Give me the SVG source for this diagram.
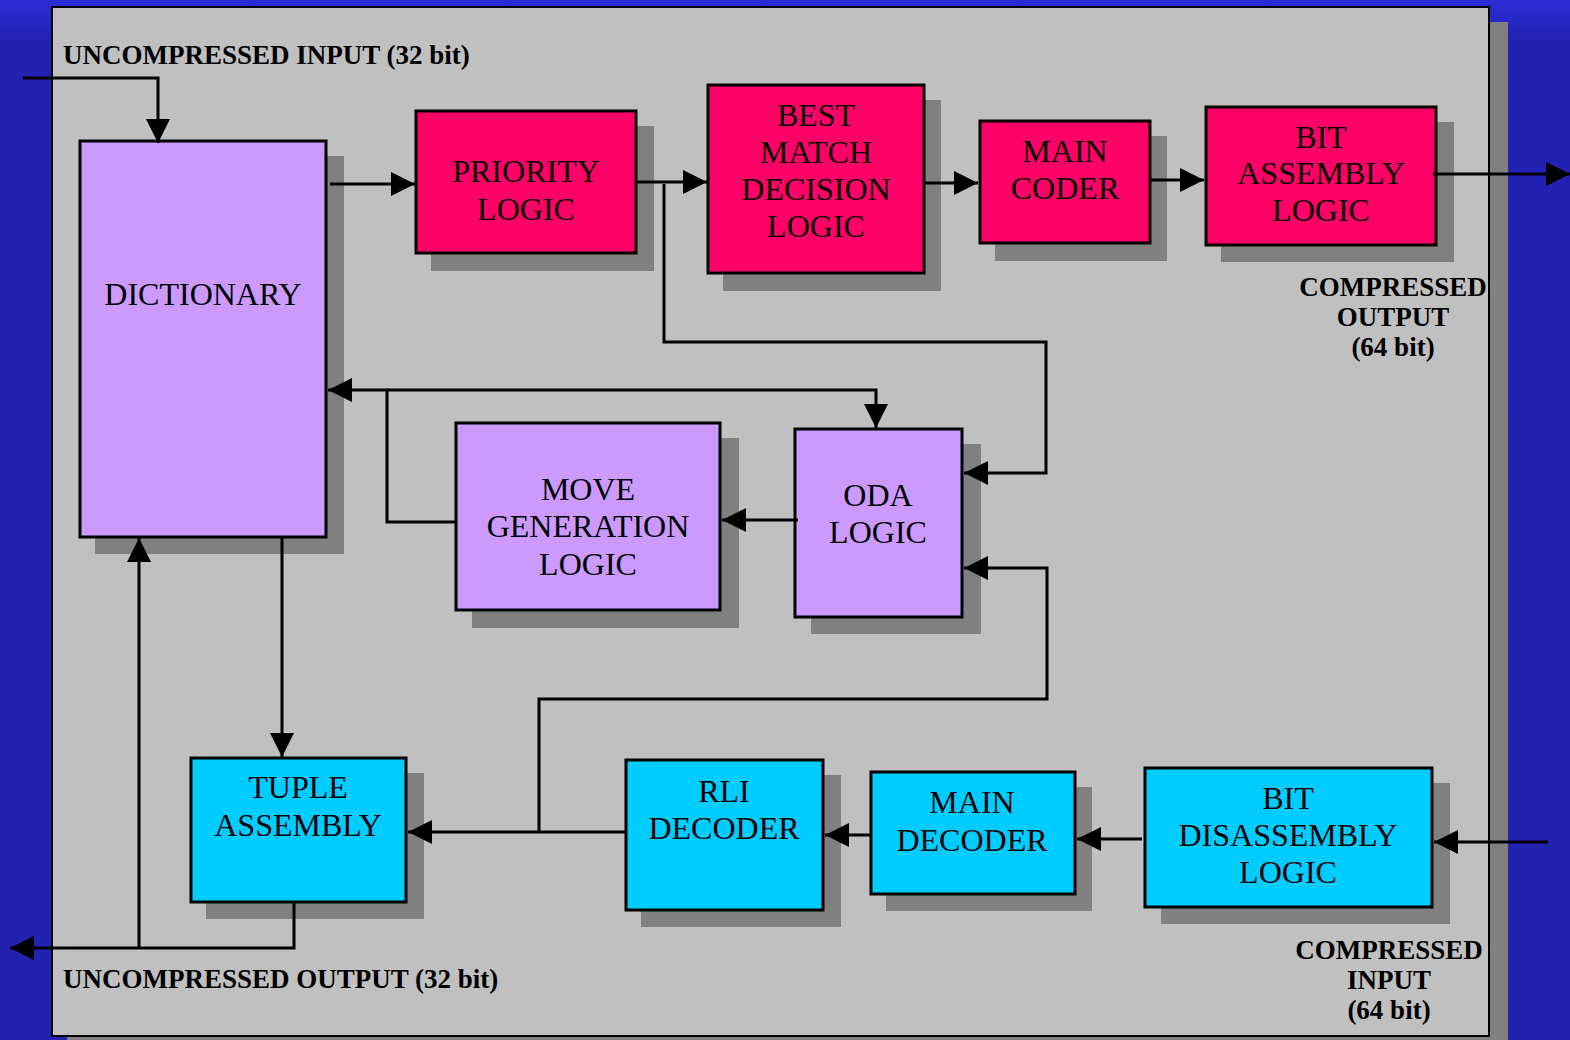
<svg xmlns="http://www.w3.org/2000/svg" width="1570" height="1040" viewBox="0 0 1570 1040">
<defs>
<linearGradient id="bg" x1="0" y1="0" x2="0" y2="1">
<stop offset="0" stop-color="#2c2cd6"/>
<stop offset="0.04" stop-color="#2222b2"/>
<stop offset="1" stop-color="#2222b0"/>
</linearGradient>
<marker id="ah" markerUnits="userSpaceOnUse" markerWidth="24" markerHeight="24" refX="24" refY="12" orient="auto" viewBox="0 0 24 24">
<path d="M0,0 L24,12 L0,24 z" fill="#000"/>
</marker>
<style>
.sh{fill:#808080}
.box{stroke:#000;stroke-width:3}
.pink{fill:#ff0066}
.lav{fill:#cc99ff}
.cyan{fill:#00ccff}
.t{font-family:"Liberation Serif","Times New Roman",serif;font-size:32px;fill:#000;text-anchor:middle}
.lb{font-family:"Liberation Serif","Times New Roman",serif;font-size:27px;font-weight:bold;fill:#000}
.lbc{text-anchor:middle}
.c{fill:none;stroke:#000;stroke-width:3}
.ca{fill:none;stroke:#000;stroke-width:3;marker-end:url(#ah)}
</style>
</defs>
<rect x="0" y="0" width="1570" height="1040" fill="url(#bg)"/>
<rect x="67" y="22" width="1441" height="1040" fill="#808080"/>
<rect x="52" y="7" width="1437" height="1029" fill="#c0c0c0" stroke="#000" stroke-width="2"/>

<g id="labels">
<text class="lb" x="63" y="64">UNCOMPRESSED INPUT (32 bit)</text>
<text class="lb lbc" x="1393" y="296">COMPRESSED</text>
<text class="lb lbc" x="1393" y="326">OUTPUT</text>
<text class="lb lbc" x="1393" y="356">(64 bit)</text>
<text class="lb lbc" x="1389" y="959">COMPRESSED</text>
<text class="lb lbc" x="1389" y="989">INPUT</text>
<text class="lb lbc" x="1389" y="1019">(64 bit)</text>
<text class="lb" x="63" y="988">UNCOMPRESSED OUTPUT (32 bit)</text>
</g>

<g id="dictionary">
<rect class="sh" x="95" y="156" width="249" height="398"/>
<rect class="box lav" x="80" y="141" width="246" height="396"/>
<text class="t" x="203" y="305">DICTIONARY</text>
</g>
<g id="priority">
<rect class="sh" x="431" y="126" width="223" height="145"/>
<rect class="box pink" x="416" y="111" width="220" height="142"/>
<text class="t" x="526" y="182">PRIORITY</text>
<text class="t" x="526" y="220">LOGIC</text>
</g>
<g id="bestmatch">
<rect class="sh" x="723" y="100" width="218" height="191"/>
<rect class="box pink" x="708" y="85" width="216" height="188"/>
<text class="t" x="816" y="126">BEST</text>
<text class="t" x="816" y="163">MATCH</text>
<text class="t" x="816" y="200">DECISION</text>
<text class="t" x="816" y="237">LOGIC</text>
</g>
<g id="maincoder">
<rect class="sh" x="995" y="136" width="172" height="125"/>
<rect class="box pink" x="980" y="121" width="170" height="122"/>
<text class="t" x="1065" y="162">MAIN</text>
<text class="t" x="1065" y="199">CODER</text>
</g>
<g id="bitassembly">
<rect class="sh" x="1221" y="122" width="233" height="140"/>
<rect class="box pink" x="1206" y="107" width="230" height="138"/>
<text class="t" x="1321" y="148">BIT</text>
<text class="t" x="1321" y="184">ASSEMBLY</text>
<text class="t" x="1321" y="221">LOGIC</text>
</g>
<g id="movegen">
<rect class="sh" x="472" y="438" width="267" height="190"/>
<rect class="box lav" x="456" y="423" width="264" height="187"/>
<text class="t" x="588" y="500">MOVE</text>
<text class="t" x="588" y="537">GENERATION</text>
<text class="t" x="588" y="575">LOGIC</text>
</g>
<g id="oda">
<rect class="sh" x="811" y="444" width="170" height="190"/>
<rect class="box lav" x="795" y="429" width="167" height="188"/>
<text class="t" x="878" y="506">ODA</text>
<text class="t" x="878" y="543">LOGIC</text>
</g>
<g id="tuple">
<rect class="sh" x="206" y="773" width="218" height="146"/>
<rect class="box cyan" x="191" y="758" width="215" height="144"/>
<text class="t" x="298" y="798">TUPLE</text>
<text class="t" x="298" y="836">ASSEMBLY</text>
</g>
<g id="rli">
<rect class="sh" x="641" y="775" width="200" height="152"/>
<rect class="box cyan" x="626" y="760" width="197" height="150"/>
<text class="t" x="724" y="802">RLI</text>
<text class="t" x="724" y="839">DECODER</text>
</g>
<g id="maindecoder">
<rect class="sh" x="886" y="787" width="206" height="124"/>
<rect class="box cyan" x="871" y="772" width="204" height="122"/>
<text class="t" x="972" y="813">MAIN</text>
<text class="t" x="972" y="851">DECODER</text>
</g>
<g id="bitdisassembly">
<rect class="sh" x="1161" y="783" width="289" height="141"/>
<rect class="box cyan" x="1145" y="768" width="287" height="139"/>
<text class="t" x="1288" y="809">BIT</text>
<text class="t" x="1288" y="846">DISASSEMBLY</text>
<text class="t" x="1288" y="883">LOGIC</text>
</g>

<g id="connectors">
<path class="ca" d="M23,78 H158 V143"/>
<path class="ca" d="M330,184 H415"/>
<path class="ca" d="M636,182 H707"/>
<path class="ca" d="M664,184 V342 H1046 V473 H964"/>
<path class="ca" d="M924,183 H978"/>
<path class="ca" d="M1150,180 H1204"/>
<path class="ca" d="M1433,174 H1570"/>
<path class="ca" d="M457,522 H387 V390 H328"/>
<path class="ca" d="M387,390 H876 V428"/>
<path class="ca" d="M798,520 H722"/>
<path class="ca" d="M1548,842 H1434"/>
<path class="ca" d="M1142,839 H1077"/>
<path class="ca" d="M871,835 H825"/>
<path class="ca" d="M626,832 H408"/>
<path class="ca" d="M539,832 V699 H1047 V568 H964"/>
<path class="ca" d="M282,537 V757"/>
<path class="ca" d="M294,902 V948 H10"/>
<path class="ca" d="M139,948 V538"/>
</g>
</svg>
